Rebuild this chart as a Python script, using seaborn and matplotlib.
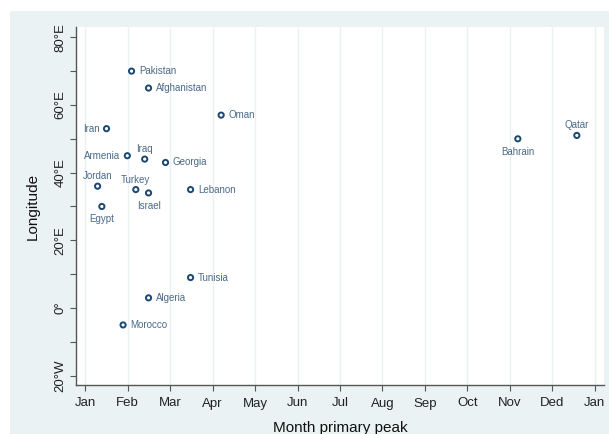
import matplotlib
matplotlib.use("Agg")
import matplotlib.pyplot as plt
import seaborn as sns
import pandas as pd
from matplotlib.patches import Rectangle

countries = ["Pakistan", "Afghanistan", "Oman", "Iran", "Armenia", "Iraq", "Georgia",
             "Jordan", "Turkey", "Israel", "Lebanon", "Egypt", "Tunisia", "Algeria",
             "Morocco", "Bahrain", "Qatar"]
month_peak = [2.09, 2.49, 4.20, 1.50, 1.99, 2.40, 2.89,
              1.29, 2.19, 2.49, 3.48, 1.39, 3.48, 2.49,
              1.89, 11.19, 12.58]
longitude = [70, 65, 57, 53, 45, 44, 43,
             36, 35, 34, 35, 30, 9, 3,
             -5, 50, 51]
label_pos = ["right", "right", "right", "left", "left", "top", "right",
             "top", "top", "bottom", "right", "bottom", "right", "right",
             "right", "bottom", "top"]

month_ticks = list(range(1, 14))
month_labels = ["Jan", "Feb", "Mar", "Apr", "May", "Jun", "Jul", "Aug", "Sep",
                "Oct", "Nov", "Ded", "Jan"]
lon_major = [-20, 0, 20, 40, 60, 80]
lon_major_labels = ["20°W", "0°", "20°E", "40°E", "60°E", "80°E"]
lon_minor = [-10, 10, 30, 50, 70]

df = pd.DataFrame({"country": countries, "month": month_peak, "lon": longitude,
                   "pos": label_pos})

sns.set_style("white")
plt.rcParams["font.family"] = ["Liberation Sans", "DejaVu Sans"]

BG = "#eaf2f3"
NAVY = "#1a476f"
W, H = 609, 434
fig = plt.figure(figsize=(W / 100, H / 100), dpi=100, facecolor="white")
fig.patches.append(Rectangle((10 / W, 0), 1 - 10 / W, (H - 11) / H,
                             transform=fig.transFigure, facecolor=BG,
                             edgecolor="none", zorder=-10))

ax = fig.add_axes([76.3 / W, (H - 385) / H, (604 - 76.3) / W, (385 - 27.3) / H])
ax.set_facecolor("white")

sns.scatterplot(data=df, x="month", y="lon", ax=ax, marker="o", s=14,
                facecolor="none", edgecolor=NAVY, linewidth=1.4, zorder=3)

offsets = {"right": ((5.2, 0), "left", "center"),
           "left": ((-5.2, 0), "right", "center"),
           "top": ((0, 7.2), "center", "center"),
           "bottom": ((0, -9.2), "center", "center")}
for _, r in df.iterrows():
    off, ha, va = offsets[r["pos"]]
    ax.annotate(r["country"], (r["month"], r["lon"]), xytext=off,
                textcoords="offset points", ha=ha, va=va, fontsize=7,
                color="#4a6a88")

ax.set_xlim(0.788, 13.22)
ax.set_ylim(-22.75, 82.95)
ax.set_xticks(month_ticks)
ax.set_xticklabels(month_labels)
ax.set_yticks(lon_major)
ax.set_yticklabels(lon_major_labels, rotation=90, va="center")
ax.set_yticks(lon_minor, minor=True)

for x in month_ticks:
    ax.axvline(x, color=BG, lw=1.0, zorder=0)

for s in ["top", "right"]:
    ax.spines[s].set_visible(False)
for s in ["left", "bottom"]:
    ax.spines[s].set_color("#555555")
    ax.spines[s].set_linewidth(1.0)

ax.tick_params(axis="both", which="both", direction="out", length=4, width=0.8,
               color="#555555", left=True, bottom=True)
ax.tick_params(axis="x", labelsize=9.5, pad=5, labelcolor="#222222")
ax.tick_params(axis="y", labelsize=9.5, pad=3, labelcolor="#222222")

ax.set_xlabel("Month primary peak", fontsize=11, color="#111111", labelpad=8)
ax.set_ylabel("Longitude", fontsize=11, color="#111111", labelpad=11)

fig.savefig("out.png", dpi=100, facecolor=fig.get_facecolor())
